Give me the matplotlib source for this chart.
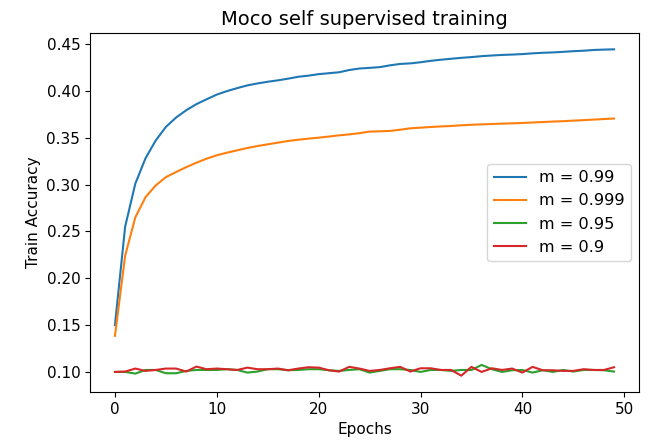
import numpy as np
import matplotlib
matplotlib.use('Agg')
import matplotlib.pyplot as plt

epochs = np.arange(50)

# m = 0.99
acc_099 = [0.150, 0.255, 0.301, 0.328, 0.347, 0.3615, 0.3715, 0.3793, 0.3858, 0.391,
           0.396, 0.3997, 0.4029, 0.4058, 0.4079, 0.4097, 0.4112, 0.4130, 0.4150, 0.4162,
           0.4178, 0.4188, 0.4198, 0.4222, 0.4238, 0.4245, 0.4253, 0.4272, 0.4287, 0.4293,
           0.4305, 0.4320, 0.4332, 0.4342, 0.4352, 0.4360, 0.4370, 0.4377, 0.4383, 0.4387,
           0.4392, 0.4400, 0.4406, 0.4410, 0.4416, 0.4423, 0.4428, 0.4436, 0.4440, 0.4443]

# m = 0.999
acc_0999 = [0.1385, 0.224, 0.265, 0.2865, 0.299, 0.3079, 0.3133, 0.3186, 0.3233, 0.3276,
            0.3312, 0.334, 0.3365, 0.339, 0.3411, 0.3429, 0.3447, 0.3465, 0.3478, 0.3490,
            0.3500, 0.3512, 0.3525, 0.3535, 0.3548, 0.3565, 0.3568, 0.3572, 0.3585, 0.3600,
            0.3607, 0.3614, 0.3620, 0.3625, 0.3632, 0.3638, 0.3642, 0.3646, 0.3650, 0.3653,
            0.3657, 0.3662, 0.3667, 0.3672, 0.3676, 0.3682, 0.3687, 0.3693, 0.3699, 0.3704]

# m = 0.95
acc_095 = [0.1000, 0.1000, 0.0982, 0.1021, 0.1021, 0.0986, 0.0986, 0.1011, 0.1021, 0.1021,
           0.1021, 0.1029, 0.1021, 0.0993, 0.1004, 0.1029, 0.1029, 0.1018, 0.1021, 0.1029,
           0.1029, 0.1018, 0.1011, 0.1021, 0.1029, 0.0993, 0.1011, 0.1029, 0.1029, 0.1021,
           0.1000, 0.1021, 0.1021, 0.1011, 0.1021, 0.1021, 0.1075, 0.1029, 0.1000, 0.1018,
           0.1021, 0.0993, 0.1018, 0.1000, 0.1021, 0.1004, 0.1021, 0.1021, 0.1018, 0.1004]

# m = 0.9
acc_09 = [0.1000, 0.1004, 0.1036, 0.1011, 0.1021, 0.1036, 0.1036, 0.1004, 0.1057, 0.1029,
          0.1036, 0.1029, 0.1021, 0.1046, 0.1029, 0.1029, 0.1036, 0.1018, 0.1036, 0.1050,
          0.1046, 0.1018, 0.1004, 0.1054, 0.1036, 0.1011, 0.1021, 0.1039, 0.1054, 0.1004,
          0.1039, 0.1039, 0.1021, 0.1021, 0.0960, 0.1054, 0.1000, 0.1039, 0.1021, 0.1036,
          0.0993, 0.1054, 0.1018, 0.1018, 0.1011, 0.1011, 0.1029, 0.1021, 0.1021, 0.1050]

fig = plt.figure(figsize=(6.49, 4.47), dpi=100)
ax = fig.add_axes([90 / 649, 1 - 392 / 447, 549 / 649, 359 / 447])

ax.plot(epochs, acc_099, label='m = 0.99', linewidth=1.5)
ax.plot(epochs, acc_0999, label='m = 0.999', linewidth=1.5)
ax.plot(epochs, acc_095, label='m = 0.95', linewidth=1.5)
ax.plot(epochs, acc_09, label='m = 0.9', linewidth=1.5)

ax.set_title('Moco self supervised training', fontsize=14)
ax.set_xlabel('Epochs', fontsize=11)
ax.set_ylabel('Train Accuracy', fontsize=11)
ax.tick_params(labelsize=11)
ax.legend(loc='center right', fontsize=11.6)

fig.savefig('out.png', dpi=100)
